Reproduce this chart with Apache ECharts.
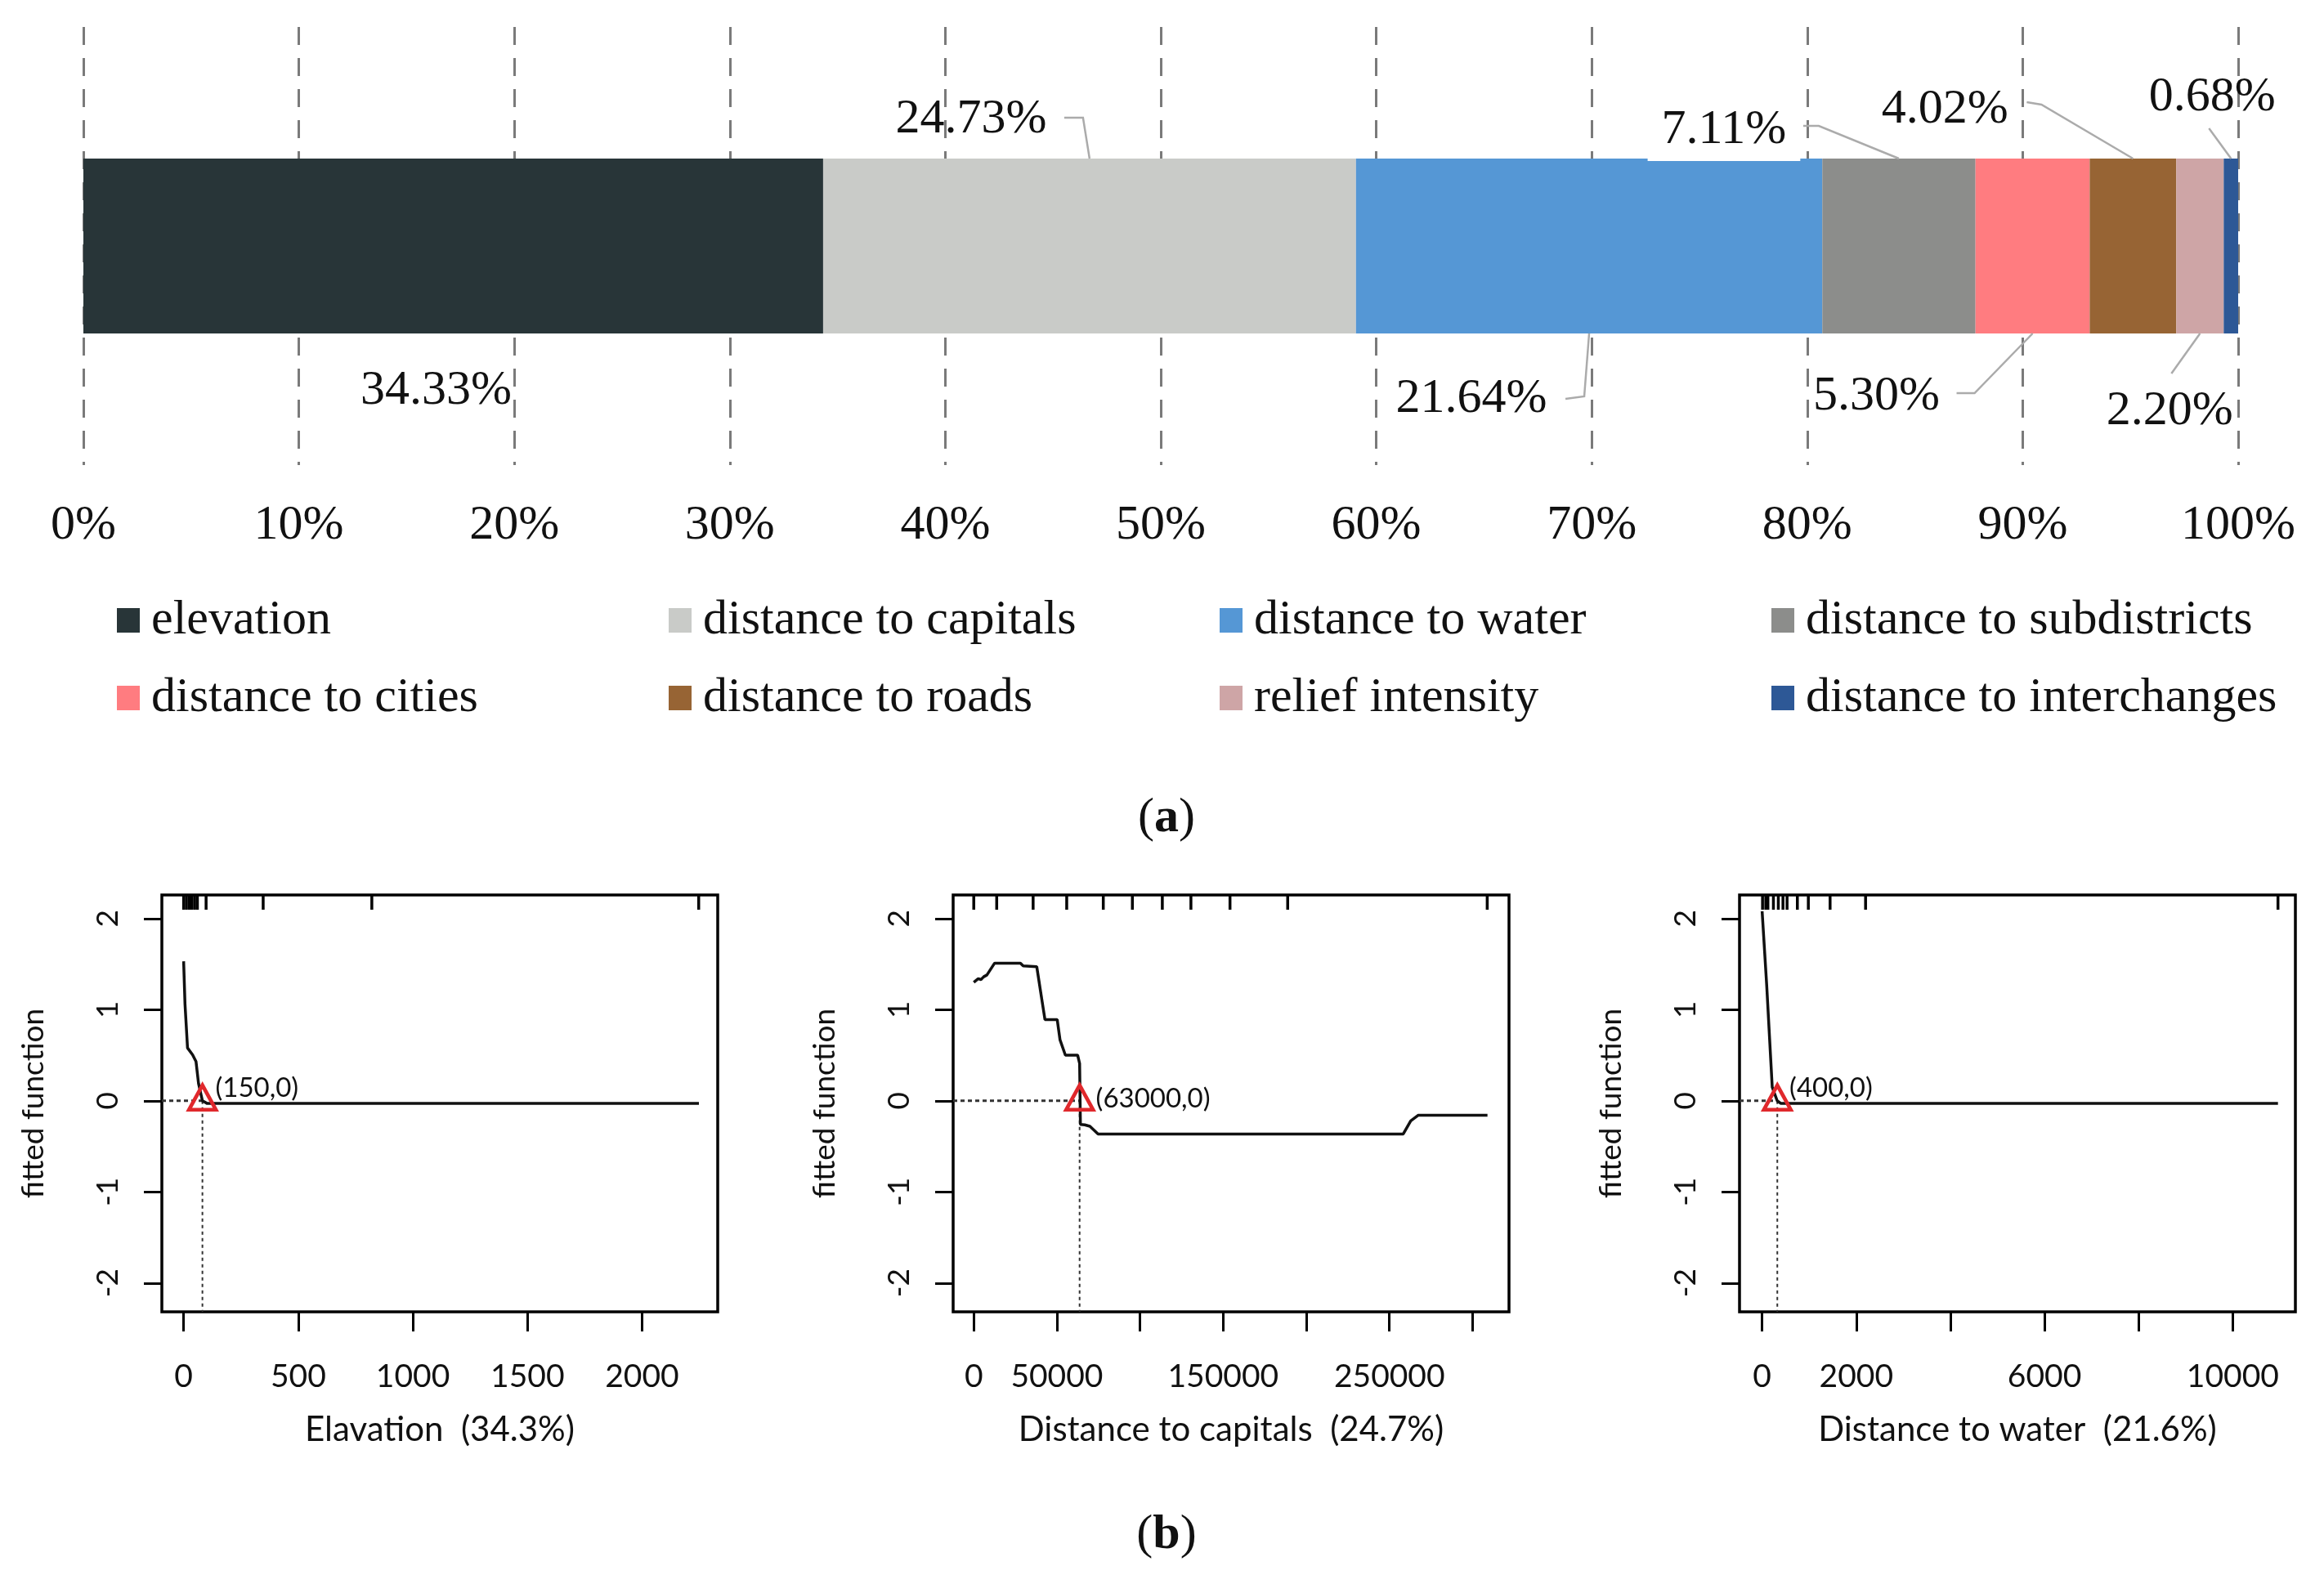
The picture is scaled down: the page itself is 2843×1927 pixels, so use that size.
<!DOCTYPE html>
<html>
<head>
<meta charset="utf-8"/>
<title>Relative importance and fitted functions</title>
<script type="text/javascript" src="https://cdn.jsdelivr.net/npm/echarts@6.0.0/dist/echarts.min.js"></script>
<style type="text/css">
	body{
		margin: 0px;
		padding: 0px;
		background: #fff;
	}
	#main{
		width: 2843px;
		height: 1927px;
	}
</style>
</head>
<body>
	<div id="main"></div>
<script type="text/javascript">
	// (a) relative influence, %
	var factors = ['elevation', 'distance to capitals', 'distance to water', 'distance to subdistricts',
		'distance to cities', 'distance to roads', 'relief intensity', 'distance to interchanges'];
	var shares = [34.33, 24.73, 21.64, 7.11, 5.30, 4.02, 2.20, 0.68];

	// (b) fitted functions
	var elevX = [0, 6, 17, 39, 54, 65, 82, 103, 2248];
	var elevY = [1.53, 1.06, 0.58, 0.505, 0.43, 0.19, 0, -0.03, -0.03];
	var elevRug = [0, 12, 24, 36, 48, 60, 98, 347, 821, 2247];
	var elevCut = [82, 0];

	var capX = [0, 2700, 4330, 5950, 7910, 12535, 28070, 29740, 37900, 41190, 42820, 50190, 51860, 55100,
		62480, 63660, 64150, 66760, 69850, 74770, 258300, 262800, 267200, 308950];
	var capY = [1.30, 1.34, 1.33, 1.36, 1.38, 1.51, 1.51, 1.48, 1.47, 1.08, 0.89, 0.89, 0.67, 0.50,
		0.50, 0.41, -0.26, -0.265, -0.28, -0.365, -0.365, -0.22, -0.16, -0.16];
	var capRug = [0, 13800, 35700, 55900, 77900, 95400, 113400, 130600, 154100, 188800, 308800];
	var capCut = [63660, 0];

	var waterX = [0, 96, 215, 320, 400, 10960];
	var waterY = [2.08, 1.28, 0.15, 0, -0.03, -0.03];
	var waterRug = [9, 78, 123, 240, 344, 443, 530, 749, 982, 1444, 2198, 10960];
	var waterCut = [323, 0];

	var cutLabels = ['(150,0)', '(63000,0)', '(400,0)'];
	var xNames = ['Elavation  (34.3%)', 'Distance to capitals  (24.7%)', 'Distance to water  (21.6%)'];
	var xTicks = [[0, 500, 1000, 1500, 2000],
		[0, 50000, 100000, 150000, 200000, 250000, 300000],
		[0, 2000, 4000, 6000, 8000, 10000]];
	var xLabels = [[0, 500, 1000, 1500, 2000],
		[0, 50000, 150000, 250000],
		[0, 2000, 6000, 10000]];
	var xRange = [[-95, 2330], [-12400, 321900], [-480, 11330]];
	var yTicks = [-2, -1, 0, 1, 2];
	var yRange = [-2.316, 2.258];

	// styles / layout
	var barColors = ['#283538', '#c9cbc8', '#5597d5', '#8c8d8b', '#ff7c80', '#976434', '#cea5a6', '#2d5896'];
	var BAR_W = 214;
	var serif = 'Liberation Serif';
	var sans = 'Lato';
	// label offset from the bar edge, leader line points (relative to the anchor)
	var labelPos = [
		{side: 'bottom', dx: -21, dy: 70, line: null},
		{side: 'top', dx: -145, dy: -48, line: [[-31, -50], [-8, -50]]},
		{side: 'bottom', dx: -144, dy: 80, line: [[-29, 80], [-6, 77]]},
		{side: 'top', dx: -214, dy: -35, line: [[-117, -40], [-98, -40]], bg: true},
		{side: 'bottom', dx: -191, dy: 77, line: [[-93, 73], [-71, 73]]},
		{side: 'top', dx: -230, dy: -60, line: [[-130, -69], [-112, -66]]},
		{side: 'bottom', dx: -37, dy: 95, line: [[-35, 49]]},
		{side: 'top', dx: -23, dy: -75, line: [[-27, -37]]}
	];
	var gridLefts = [198, 1166, 2128];
	var cutDist = [-3, 1, -4];
	var cutDy = [-11, 2, -11];
	var legendLefts = [138, 813, 1487, 2162];

	var curves = [[elevX, elevY], [capX, capY], [waterX, waterY]];
	var rugs = [elevRug, capRug, waterRug];
	var cuts = [elevCut, capCut, waterCut];

	function zip(xs, ys){
		var out = [];
		for(var i=0;i<xs.length;i++){
			out.push([xs[i], ys[i]]);
		}
		return out;
	}

	var starts = [];
	var acc = 0;
	for(var i=0;i<shares.length;i++){
		starts.push(acc);
		acc += shares[i];
	}

	var grids = [{left: 102, right: 105, top: 33, height: 536}];
	var xAxes = [{
		type: 'value',
		gridIndex: 0,
		min: 0,
		max: 100,
		interval: 10,
		axisLine: {lineStyle: {color: '#595959', width: 4}},
		axisTick: {show: false},
		axisLabel: {
			formatter: '{value}%',
			fontFamily: serif,
			fontSize: 60,
			color: '#111',
			margin: 44
		},
		splitLine: {
			show: true,
			lineStyle: {color: '#7a7a7a', width: 3, type: [22, 16]}
		}
	}];
	var yAxes = [{
		type: 'category',
		gridIndex: 0,
		data: [''],
		show: false
	}];
	var series = [];

	// stacked bar
	for(var i=0;i<factors.length;i++){
		series.push({
			name: factors[i],
			type: 'bar',
			stack: 'total',
			xAxisIndex: 0,
			yAxisIndex: 0,
			barWidth: BAR_W,
			itemStyle: {color: barColors[i]},
			data: [shares[i]]
		});
	}

	// percentage labels with leader lines
	series.push({
		type: 'custom',
		xAxisIndex: 0,
		yAxisIndex: 0,
		z: 10,
		silent: true,
		data: shares.map(function(v, i){ return [starts[i] + v / 2, 0, i]; }),
		renderItem: function(params, api){
			var i = api.value(2);
			var c = api.coord([api.value(0), 0]);
			var p = labelPos[i];
			var ax = c[0];
			var ay = p.side === 'top' ? c[1] - BAR_W / 2 : c[1] + BAR_W / 2;
			var children = [];
			if(p.line){
				var pts = p.line.map(function(q){ return [ax + q[0], ay + q[1]]; });
				pts.push([ax, ay]);
				children.push({
					type: 'polyline',
					shape: {points: pts},
					style: {stroke: '#ababab', lineWidth: 2.5, fill: null}
				});
			}
			children.push({
				type: 'text',
				x: ax + p.dx,
				y: ay + p.dy,
				style: {
					text: shares[i].toFixed(2) + '%',
					align: 'center',
					verticalAlign: 'middle',
					fontFamily: serif,
					fontSize: 60,
					fill: '#111',
					backgroundColor: p.bg ? '#fff' : null,
					padding: p.bg ? [4, 17, 12, 17] : 0
				}
			});
			return {type: 'group', children: children};
		}
	});

	// three fitted function panels
	for(var k=0;k<3;k++){
		var g = k + 1;
		grids.push({
			left: gridLefts[k],
			width: 680,
			top: 1095,
			height: 510,
			show: true,
			borderColor: '#000',
			borderWidth: 3.5,
			backgroundColor: 'transparent'
		});
		xAxes.push({
			type: 'value',
			gridIndex: g,
			min: xRange[k][0],
			max: xRange[k][1],
			name: xNames[k],
			nameLocation: 'middle',
			nameGap: 123,
			nameTextStyle: {fontFamily: sans, fontSize: 42, color: '#111'},
			axisLine: {show: false, onZero: false},
			axisTick: {show: true, length: 24, customValues: xTicks[k], lineStyle: {color: '#000', width: 3}},
			axisLabel: {
				customValues: xLabels[k],
				formatter: function(v){ return String(v); },
				fontFamily: sans,
				fontSize: 39,
				lineHeight: 44,
				color: '#111',
				margin: 57
			},
			splitLine: {show: false}
		});
		yAxes.push({
			type: 'value',
			gridIndex: g,
			min: yRange[0],
			max: yRange[1],
			name: 'fitted function',
			nameLocation: 'middle',
			nameGap: 138,
			nameTextStyle: {fontFamily: sans, fontSize: 37, color: '#111'},
			axisLine: {show: false, onZero: false},
			axisTick: {show: true, length: 22, customValues: yTicks, lineStyle: {color: '#000', width: 3}},
			axisLabel: {
				customValues: yTicks,
				rotate: 90,
				fontFamily: sans,
				fontSize: 37,
				lineHeight: 44,
				color: '#111',
				margin: 44
			},
			splitLine: {show: false}
		});
		// curve
		series.push({
			type: 'line',
			xAxisIndex: g,
			yAxisIndex: g,
			symbol: 'none',
			lineStyle: {color: '#111', width: 3.5},
			z: 3,
			data: zip(curves[k][0], curves[k][1])
		});
		// dotted guides to the zero crossing
		series.push({
			type: 'line',
			xAxisIndex: g,
			yAxisIndex: g,
			symbol: 'none',
			lineStyle: {color: '#333', width: 3, type: [5, 4]},
			z: 2,
			data: [[xRange[k][0], cuts[k][1]], [cuts[k][0], cuts[k][1]]]
		});
		series.push({
			type: 'line',
			xAxisIndex: g,
			yAxisIndex: g,
			symbol: 'none',
			lineStyle: {color: '#333', width: 2, type: [4, 4]},
			z: 2,
			data: [[cuts[k][0], cuts[k][1]], [cuts[k][0], yRange[0]]]
		});
		// rug
		series.push({
			type: 'scatter',
			xAxisIndex: g,
			yAxisIndex: g,
			symbol: 'rect',
			symbolSize: [3.5, 18],
			symbolOffset: [0, 9],
			clip: false,
			itemStyle: {color: '#000', opacity: 1},
			data: rugs[k].map(function(x){ return [x, yRange[1]]; })
		});
		// red triangle
		series.push({
			type: 'scatter',
			xAxisIndex: g,
			yAxisIndex: g,
			symbol: 'triangle',
			symbolSize: [33, 30],
			symbolOffset: [0, -4],
			z: 5,
			itemStyle: {color: 'rgba(255,255,255,0)', borderColor: '#e0282c', borderWidth: 4.5, opacity: 1},
			label: {
				show: true,
				formatter: cutLabels[k],
				position: 'right',
				distance: cutDist[k],
				offset: [0, cutDy[k]],
				fontFamily: sans,
				fontSize: 33,
				color: '#111'
			},
			data: [cuts[k]]
		});
	}

	var legends = [];
	for(var c=0;c<4;c++){
		legends.push({
			data: [factors[c], factors[c + 4]],
			orient: 'vertical',
			left: legendLefts[c],
			top: 724,
			icon: 'rect',
			itemWidth: 28,
			itemHeight: 30,
			itemGap: 35,
			selectedMode: false,
			textStyle: {fontFamily: serif, fontSize: 60, lineHeight: 60, color: '#111', padding: [0, 0, 0, 9]}
		});
	}

	var myChart = echarts.init(document.getElementById('main'));
	myChart.setOption({
		animation: false,
		backgroundColor: '#fff',
		grid: grids,
		xAxis: xAxes,
		yAxis: yAxes,
		legend: legends,
		graphic: [
			{
				type: 'text',
				x: 1427,
				y: 1001,
				style: {
					text: '{n|(}{b|a}{n|)}',
					align: 'center',
					verticalAlign: 'middle',
					rich: {
						n: {fontFamily: serif, fontSize: 60, fill: '#111'},
						b: {fontFamily: serif, fontSize: 60, fontWeight: 'bold', fill: '#111'}
					}
				}
			},
			{
				type: 'text',
				x: 1427,
				y: 1878,
				style: {
					text: '{n|(}{b|b}{n|)}',
					align: 'center',
					verticalAlign: 'middle',
					rich: {
						n: {fontFamily: serif, fontSize: 60, fill: '#111'},
						b: {fontFamily: serif, fontSize: 60, fontWeight: 'bold', fill: '#111'}
					}
				}
			}
		],
		series: series
	});
</script>
</body>
</html>
